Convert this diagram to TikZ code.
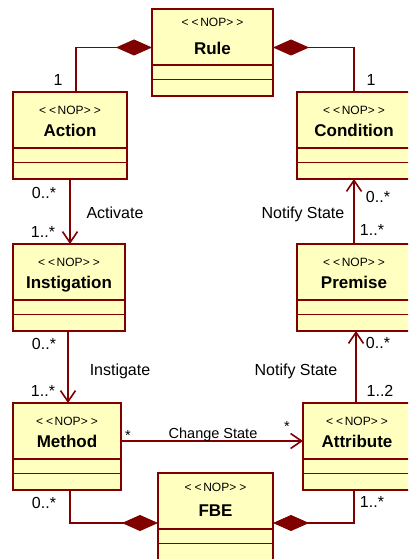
\documentclass[tikz,border=0pt]{standalone}
\usepackage{fontspec}
\setmainfont{Liberation Sans}
\usetikzlibrary{arrows.meta,calc}
\definecolor{umlred}{RGB}{128,0,0}
\definecolor{umlfill}{RGB}{255,255,192}
\newcommand\umlclass[7]{%
  \node[cls,minimum width={(#4-#2)*1pt},minimum height=87pt] (#1) at ({(#2+#4)/2},{#3+43.5}) {};
  \draw[div] ([yshift=-56pt]#1.north west) -- ([yshift=-56pt]#1.north east);
  \draw[div] ([yshift=-70.5pt]#1.north west) -- ([yshift=-70.5pt]#1.north east);
  \node[stereo] (#1-st) at ([yshift=-#6pt]#1.north) {<\kern3pt<\kern1.5ptNOP>\kern3pt>};
  \node[clsname] (#1-name) at ([yshift=-#7pt]#1.north) {#5};
}
\begin{document}
\begin{tikzpicture}[x=1pt,y=-1pt,
  cls/.style={draw=umlred,fill=umlfill,line width=1.6pt,inner sep=0pt,outer sep=0pt},
  div/.style={draw=umlred,line width=1.6pt},
  stereo/.style={inner sep=0pt,font=\fontsize{12}{14}\selectfont,text height=8.6pt,text depth=0pt},
  clsname/.style={inner sep=0pt,font=\fontsize{17}{20}\selectfont\bfseries,text height=12.2pt,text depth=0pt},
  lbl/.style={inner sep=0pt,font=\fontsize{16}{18}\selectfont,text height=11.4pt,text depth=0pt},
  slbl/.style={inner sep=0pt,font=\fontsize{14.5}{17}\selectfont,text height=10.4pt,text depth=0pt},
  conn/.style={draw=umlred,line width=1.6pt},
  arr/.style={conn,-{Straight Barb[length=11pt,width=15pt,line width=1.6pt]}},
  comp/.style={conn,{Diamond[length=36pt,width=16pt,fill=umlred,line width=0.8pt]}-}]
\clip (0,0) rectangle (408,559);
\fill[white] (0,0) rectangle (408,559);
\umlclass{Rule}{152}{9}{273}{Rule}{13}{39}
\umlclass{Action}{13}{92}{127}{Action}{18}{38}
\umlclass{Condition}{297}{92}{411}{Condition}{18}{38}
\umlclass{Instigation}{13}{244}{125}{Instigation}{18}{38}
\umlclass{Premise}{297}{244}{411}{Premise}{18}{38}
\umlclass{Method}{13}{403}{121}{Method}{18}{38}
\umlclass{Attribute}{303}{403}{411}{Attribute}{18}{38}
\umlclass{FBE}{158}{473}{273}{FBE}{14}{37}
% connectors
\draw[comp] ([yshift=5pt]Rule.west) -| ([xshift=6pt]Action.north);
\draw[comp] ([yshift=5pt]Rule.east) -| (Condition.north);
\draw[arr] (Action.south) -- (Action.south |- Instigation.north);
\draw[arr] (Premise.north) -- (Premise.north |- Condition.south);
\draw[arr] ([xshift=-1pt]Instigation.south) -- ([xshift=-1pt]Instigation.south |- Method.north);
\draw[arr] ([xshift=-1pt]Attribute.north) -- ([xshift=-1pt]Attribute.north |- Premise.south);
\draw[arr] ([yshift=5.5pt]Method.east) -- ([yshift=5.5pt]Attribute.west);
\draw[comp] ([yshift=-6.5pt]FBE.west) -| ([xshift=3pt]Method.south);
\draw[comp] ([yshift=-6.5pt]FBE.east) -| ([xshift=-3pt]Attribute.south);
% labels
\node[lbl] (l1) at (58,80) {1};
\node[lbl] (l2) at (371,80) {1};
\node[lbl] (l3) at (44,193) {0..*};
\node[lbl] (l4) at (115,213) {Activate};
\node[lbl] (l5) at (43,232) {1..*};
\node[lbl] (l6) at (303,213) {Notify State};
\node[lbl] (l7) at (378,197) {0..*};
\node[lbl] (l8) at (372,230) {1..*};
\node[lbl] (l9) at (44,344) {0..*};
\node[lbl] (l10) at (120,370) {Instigate};
\node[lbl] (l11) at (296,370) {Notify State};
\node[lbl] (l12) at (378,343) {0..*};
\node[lbl] (l13) at (43,391) {1..*};
\node[lbl] (l14) at (380,391) {1..2};
\node[slbl] (l15) at (128,435) {*};
\node[slbl] (l16) at (213,433) {Change State};
\node[slbl] (l17) at (287,426) {*};
\node[lbl] (l18) at (44,503) {0..*};
\node[lbl] (l19) at (372,502) {1..*};
\end{tikzpicture}
\end{document}
